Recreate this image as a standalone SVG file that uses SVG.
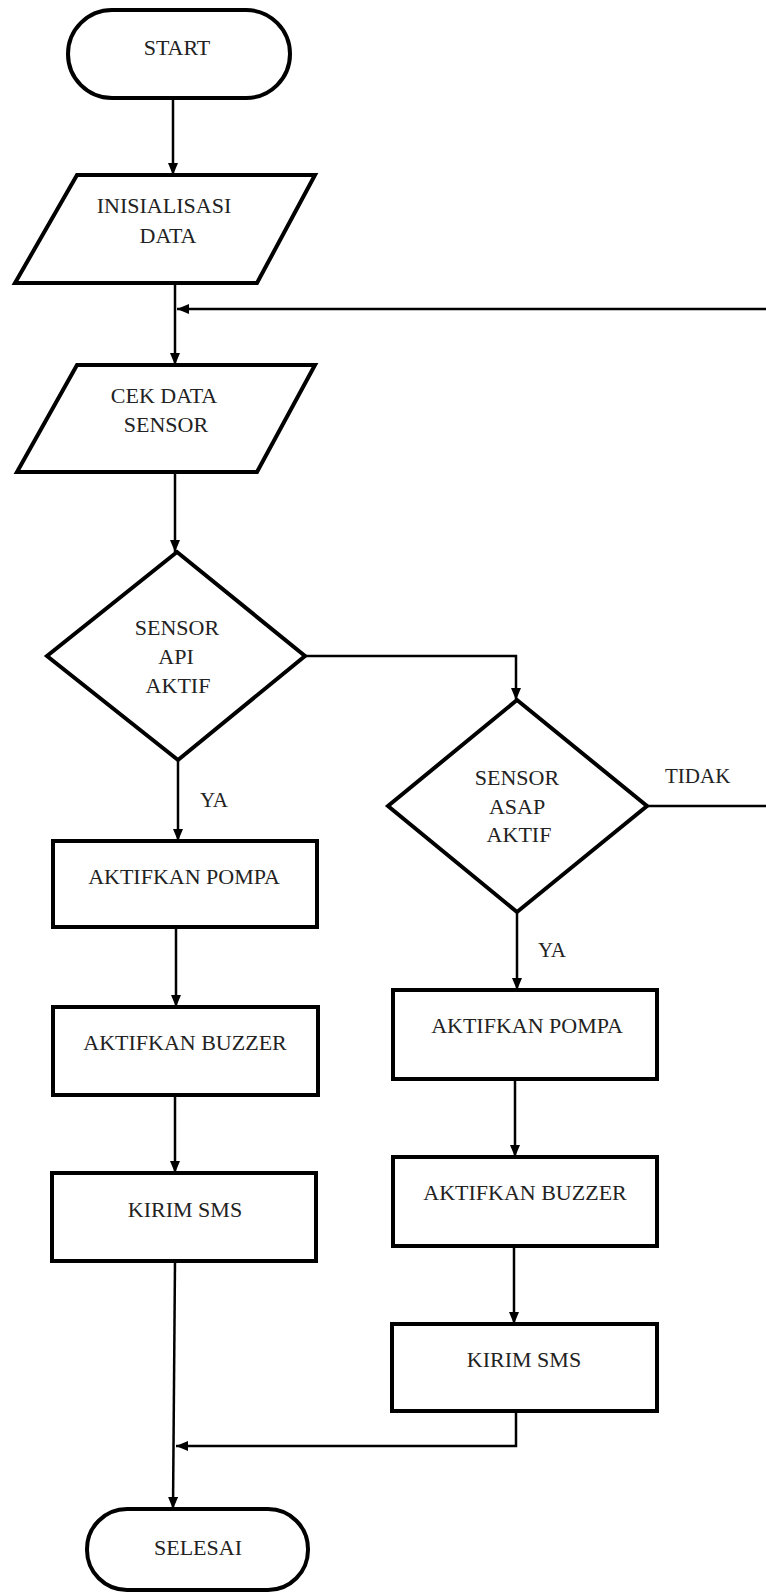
<svg xmlns="http://www.w3.org/2000/svg" width="766" height="1593" viewBox="0 0 766 1593">
<defs>
<style>
.shape{fill:#fff;stroke:#000;stroke-width:4;stroke-linejoin:miter}
.conn{fill:none;stroke:#000;stroke-width:2.5}
.t{font-family:"Liberation Serif","Times New Roman",serif;font-size:22px;fill:#222;text-anchor:middle}
.lbl{font-family:"Liberation Serif","Times New Roman",serif;font-size:21px;fill:#222}
</style>
<marker id="ah" markerUnits="userSpaceOnUse" markerWidth="12" markerHeight="10" viewBox="0 0 12 10" refX="12" refY="5" orient="auto">
<path d="M0,0 L12,5 L0,10 Z" fill="#000"/>
</marker>
</defs>
<rect width="766" height="1593" fill="#fff"/>
<g id="connectors">
<path class="conn" d="M173,98 V175" marker-end="url(#ah)"/>
<path class="conn" d="M175,283 V365" marker-end="url(#ah)"/>
<path class="conn" d="M175,472 V552" marker-end="url(#ah)"/>
<path class="conn" d="M305,656 H516 V700" marker-end="url(#ah)"/>
<path class="conn" d="M178,760 V841" marker-end="url(#ah)"/>
<path class="conn" d="M176,927 V1007" marker-end="url(#ah)"/>
<path class="conn" d="M175,1095 V1173" marker-end="url(#ah)"/>
<path class="conn" d="M175,1261 L173,1509" marker-end="url(#ah)"/>
<path class="conn" d="M517,912 V990" marker-end="url(#ah)"/>
<path class="conn" d="M515,1079 V1157" marker-end="url(#ah)"/>
<path class="conn" d="M514,1246 V1324" marker-end="url(#ah)"/>
<path class="conn" d="M516,1411 V1446 H176" marker-end="url(#ah)"/>
<path class="conn" d="M647,806 H769 V309 H177" marker-end="url(#ah)"/>
<text class="lbl" x="200" y="807">YA</text>
<text class="lbl" x="538" y="957">YA</text>
<text class="lbl" x="665" y="783">TIDAK</text>
</g>
<g id="start">
<rect class="shape" x="68" y="10" width="222" height="88" rx="44" ry="44"/>
<text class="t" x="177" y="55">START</text>
</g>
<g id="inisialisasi">
<polygon class="shape" points="77,175 315,175 257,283 15,283"/>
<text class="t" x="164" y="213">INISIALISASI</text>
<text class="t" x="168" y="243">DATA</text>
</g>
<g id="cek-data">
<polygon class="shape" points="77,365 315,365 257,472 17,472"/>
<text class="t" x="164" y="403">CEK DATA</text>
<text class="t" x="166" y="432">SENSOR</text>
</g>
<g id="sensor-api">
<polygon class="shape" points="177,552 305,656 178,760 47,656"/>
<text class="t" x="177" y="635">SENSOR</text>
<text class="t" x="176" y="664">API</text>
<text class="t" x="178" y="693">AKTIF</text>
</g>
<g id="sensor-asap">
<polygon class="shape" points="517,700 647,806 517,912 388,806"/>
<text class="t" x="517" y="785">SENSOR</text>
<text class="t" x="517" y="814">ASAP</text>
<text class="t" x="519" y="842">AKTIF</text>
</g>
<g id="pompa-1">
<rect class="shape" x="53" y="841" width="264" height="86"/>
<text class="t" x="184" y="884">AKTIFKAN POMPA</text>
</g>
<g id="buzzer-1">
<rect class="shape" x="53" y="1007" width="265" height="88"/>
<text class="t" x="185" y="1050">AKTIFKAN BUZZER</text>
</g>
<g id="sms-1">
<rect class="shape" x="52" y="1173" width="264" height="88"/>
<text class="t" x="185" y="1217">KIRIM SMS</text>
</g>
<g id="pompa-2">
<rect class="shape" x="393" y="990" width="264" height="89"/>
<text class="t" x="527" y="1033">AKTIFKAN POMPA</text>
</g>
<g id="buzzer-2">
<rect class="shape" x="393" y="1157" width="264" height="89"/>
<text class="t" x="525" y="1200">AKTIFKAN BUZZER</text>
</g>
<g id="sms-2">
<rect class="shape" x="392" y="1324" width="265" height="87"/>
<text class="t" x="524" y="1367">KIRIM SMS</text>
</g>
<g id="selesai">
<rect class="shape" x="87" y="1509" width="221" height="81" rx="40" ry="40"/>
<text class="t" x="198" y="1555">SELESAI</text>
</g>
</svg>
